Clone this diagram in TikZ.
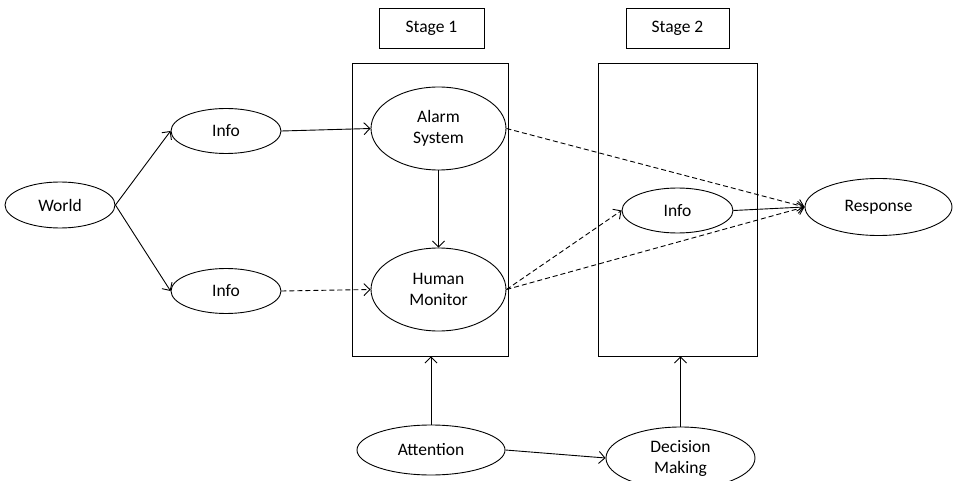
\documentclass[tikz,border=0pt]{standalone}
\usepackage{fontspec}
\setmainfont{Carlito}
\usetikzlibrary{arrows.meta,shapes.geometric}

\begin{document}
\begin{tikzpicture}[
  x=1pt, y=-1pt,
  font=\fontsize{17.5}{21}\selectfont,
  line width=0.9pt,
  >={Straight Barb[length=6pt,width=12pt]},
  oval/.style={ellipse, draw, inner sep=0pt, align=center},
  stage_box/.style={rectangle, draw, inner sep=0pt, minimum height=40pt},
  frame_box/.style={rectangle, draw, inner sep=0pt, minimum height=293pt},
  flow/.style={->},
  maybe_flow/.style={->, dash pattern=on 5pt off 3pt},
]
\useasboundingbox (0,0) rectangle (956,481);
\node (S1) [stage_box, minimum width=105pt] at (431.5,28) {Stage 1};
\node (S2) [stage_box, minimum width=103pt] at (677.5,28) {Stage 2};
\node (F1) [frame_box, minimum width=156pt] at (430,209.5) {};
\node (F2) [frame_box, minimum width=159pt] at (677.5,209.5) {};
\node (W) [oval, minimum width=110pt, minimum height=46pt] at (60,205) {World};
\node (I1) [oval, minimum width=110pt, minimum height=45pt] at (226,131) {Info};
\node (I2) [oval, minimum width=110pt, minimum height=45pt] at (226,291) {Info};
\node (A) [oval, minimum width=135pt, minimum height=83pt] at (438.5,128.5) {Alarm\\System};
\node (H) [oval, minimum width=135pt, minimum height=83pt] at (438.5,289.5) {Human\\Monitor};
\node (I3) [oval, minimum width=111pt, minimum height=45pt] at (677.5,210.5) {Info};
\node (R) [oval, minimum width=147pt, minimum height=57pt] at (878.5,207) {Response};
\node (AT) [oval, minimum width=148pt, minimum height=50pt] at (431,450) {Attention};
\node (D) [oval, minimum width=149pt, minimum height=62pt] at (680.5,458) {Decision\\Making};
\draw [flow] (W.east) -- (I1.west);
\draw [flow] (W.east) -- (I2.west);
\draw [flow] (I1.east) -- (A.west);
\draw [maybe_flow] (I2.east) -- (H.west);
\draw [flow] (A.south) -- (H.north);
\draw [maybe_flow] (A.east) -- (R.west);
\draw [maybe_flow] (H.east) -- (I3.west);
\draw [maybe_flow] (H.east) -- (R.west);
\draw [flow] (I3.east) -- (R.west);
\draw [flow] (AT.north) -- (AT.north |- F1.south);
\draw [flow] (AT.east) -- (D.west);
\draw [flow] (D.north) -- (D.north |- F2.south);
\end{tikzpicture}
\end{document}
